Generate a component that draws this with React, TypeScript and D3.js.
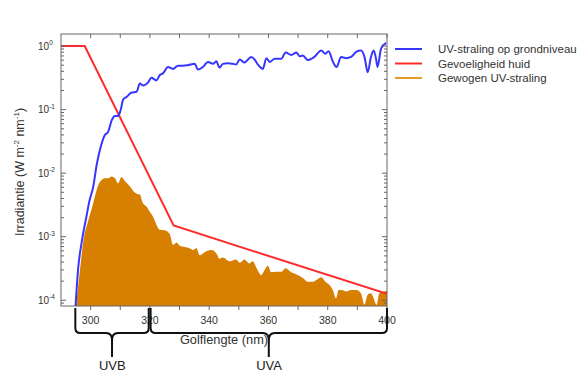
import React from "react";
import * as d3 from "d3";

// Wavelength (nm) and irradiance (W m^-2 nm^-1)
const uvWavelength = [294.9, 295.8, 297.0, 298.6, 299.5, 300.9, 302.0, 303.1, 304.8, 305.9, 307.1, 308.2, 309.3, 310.1, 311.0, 312.1, 313.8, 315.5, 316.6, 317.7, 319.4, 320.5, 322.2, 323.3, 324.4, 326.1, 327.8, 329.5, 331.2, 332.9, 335.1, 336.2, 337.9, 339.6, 341.3, 342.4, 343.5, 344.6, 346.3, 348.0, 349.1, 350.3, 351.9, 354.2, 355.3, 356.4, 358.1, 359.3, 360.4, 362.1, 364.3, 365.8, 367.7, 369.4, 370.5, 371.6, 373.3, 375.5, 377.8, 379.2, 380.3, 381.7, 383.0, 384.5, 386.2, 387.9, 389.6, 391.2, 392.4, 393.5, 394.6, 395.5, 396.3, 396.8, 398.0, 399.7];
const uvIrradiance = [8.0e-5, 3.2e-4, 8.3e-4, 2.1e-3, 3.5e-3, 6.2e-3, 0.0132, 0.0229, 0.0398, 0.0447, 0.0676, 0.0794, 0.0794, 0.0977, 0.145, 0.158, 0.186, 0.191, 0.257, 0.240, 0.269, 0.316, 0.288, 0.347, 0.372, 0.468, 0.437, 0.490, 0.490, 0.501, 0.525, 0.427, 0.468, 0.562, 0.525, 0.575, 0.457, 0.525, 0.537, 0.525, 0.513, 0.617, 0.550, 0.676, 0.617, 0.513, 0.437, 0.646, 0.562, 0.631, 0.631, 0.794, 0.724, 0.794, 0.692, 0.708, 0.603, 0.676, 0.851, 0.759, 0.832, 0.575, 0.468, 0.676, 0.646, 0.676, 0.813, 0.851, 0.676, 0.389, 0.676, 0.851, 0.631, 0.468, 0.912, 1.12];

const skinWavelength = [290, 298, 328, 400];
const skinSensitivity = [1, 1, 0.0015, 0.000126];

const weightedWavelength = [294.9, 296.4, 297.5, 299.2, 300.9, 302.0, 302.6, 303.7, 304.8, 305.9, 307.1, 308.2, 309.3, 310.4, 311.5, 313.2, 314.6, 315.7, 316.6, 317.5, 318.9, 320.0, 321.1, 322.2, 323.3, 325.0, 326.7, 327.8, 329.0, 330.1, 331.8, 333.4, 334.5, 335.7, 336.8, 339.0, 340.7, 342.4, 343.5, 344.6, 346.9, 349.1, 350.3, 351.9, 353.6, 354.7, 356.0, 357.6, 358.7, 359.8, 360.9, 362.6, 364.3, 365.8, 367.7, 369.9, 371.6, 373.3, 375.0, 376.3, 377.8, 379.2, 380.6, 381.7, 382.8, 383.7, 384.8, 386.2, 387.9, 389.6, 391.2, 392.4, 393.5, 394.6, 395.5, 396.5, 397.4, 399.1, 400.0];
const weightedIrradiance = [7.1e-5, 3.0e-4, 8.3e-4, 1.8e-3, 3.4e-3, 5.4e-3, 6.5e-3, 7.8e-3, 8.3e-3, 8.3e-3, 8.9e-3, 8.3e-3, 6.9e-3, 8.7e-3, 7.6e-3, 6.2e-3, 5.1e-3, 4.7e-3, 4.6e-3, 3.5e-3, 2.95e-3, 2.45e-3, 2.04e-3, 1.55e-3, 1.29e-3, 1.26e-3, 1.10e-3, 7.4e-4, 8.1e-4, 7.2e-4, 6.9e-4, 6.6e-4, 6.2e-4, 6.6e-4, 5.1e-4, 5.9e-4, 6.2e-4, 5.5e-4, 4.5e-4, 4.7e-4, 4.1e-4, 4.4e-4, 3.9e-4, 4.4e-4, 3.8e-4, 4.1e-4, 3.2e-4, 2.5e-4, 3.0e-4, 3.5e-4, 2.75e-4, 2.8e-4, 2.8e-4, 3.2e-4, 2.75e-4, 2.5e-4, 2.24e-4, 1.95e-4, 1.95e-4, 2.1e-4, 2.3e-4, 1.95e-4, 1.74e-4, 1.45e-4, 1.07e-4, 1.45e-4, 1.45e-4, 1.38e-4, 1.45e-4, 1.45e-4, 1.29e-4, 8.5e-5, 1.23e-4, 1.29e-4, 1.07e-4, 8.5e-5, 1.29e-4, 1.38e-4, 1.41e-4];

const xTickLabels = [300, 320, 340, 360, 380, 400];
const xTicksAll = [300, 310, 320, 330, 340, 350, 360, 370, 380, 390, 400];
const yDecades = [0, -1, -2, -3, -4];

const legendLabels = ["UV-straling op grondniveau", "Gevoeligheid huid", "Gewogen UV-straling"];
const legendColors = ["#3636ff", "#ff2b2b", "#e39a2e"];

const bands = [
  { label: "UVB", from: 295, to: 319.6 },
  { label: "UVA", from: 320.4, to: 400 },
];

const FONT = "'Liberation Sans', Arial, Helvetica, sans-serif";

export default function App() {
  const left = 61, right = 387, top = 34, bottom = 306;
  const x = d3.scaleLinear().domain([290, 400]).range([left, right]);
  const y = d3.scaleLog().domain([Math.pow(10, -4.09), Math.pow(10, 0.19)]).range([bottom, top]);

  const blue = uvWavelength.map((w, i) => [w, uvIrradiance[i]] as [number, number]);
  const red = skinWavelength.map((w, i) => [w, skinSensitivity[i]] as [number, number]);
  const orange = weightedWavelength.map((w, i) => [w, weightedIrradiance[i]] as [number, number]);

  const line = d3.line<[number, number]>().x(d => x(d[0])).y(d => y(d[1]));
  const smooth = d3.line<[number, number]>().x(d => x(d[0])).y(d => y(d[1])).curve(d3.curveMonotoneX);
  const area = d3.area<[number, number]>().x(d => x(d[0])).y0(bottom + 2).y1(d => y(d[1])).curve(d3.curveMonotoneX);

  const minor: number[] = [];
  for (let e = -5; e <= 0; e++) for (let m = 2; m <= 9; m++) {
    const v = m * Math.pow(10, e);
    const py = y(v);
    if (py > top && py < bottom) minor.push(py);
  }

  const axisColor = "#666";
  const braceY = 333, tipY = 357, topY = 308;
  const brace = (x0: number, x1: number) => {
    const xc = (x0 + x1) / 2;
    return `M${x0},${topY} L${x0},${braceY - 5} Q${x0},${braceY} ${x0 + 5},${braceY} L${xc - 6},${braceY} Q${xc},${braceY} ${xc},${braceY + 7} L${xc},${tipY} M${xc},${braceY + 7} Q${xc},${braceY} ${xc + 6},${braceY} L${x1 - 5},${braceY} Q${x1},${braceY} ${x1},${braceY - 5} L${x1},${topY}`;
  };

  return (
    <svg width={582} height={389} style={{ position: "absolute", left: 0, top: 0, background: "#fff" }} fontFamily={FONT}>
      <defs>
        <clipPath id="plotclip">
          <rect x={left} y={top} width={right - left} height={bottom - top} />
        </clipPath>
      </defs>
      <g clipPath="url(#plotclip)">
        <path d={area(orange) || ""} fill="#d77f00" />
        <path d={line(red) || ""} fill="none" stroke="#ff2b2b" strokeWidth={2} />
        <path d={smooth(blue) || ""} fill="none" stroke="#3636ff" strokeWidth={2} strokeLinejoin="round" />
      </g>
      {/* frame */}
      <rect x={left} y={top} width={right - left} height={bottom - top} fill="none" stroke={axisColor} strokeWidth={1} />
      {/* x ticks */}
      {xTicksAll.map(t => (
        <g key={"xt" + t}>
          <line x1={x(t)} x2={x(t)} y1={top} y2={top + 4} stroke={axisColor} />
          <line x1={x(t)} x2={x(t)} y1={bottom} y2={bottom + 4} stroke={axisColor} />
        </g>
      ))}
      {xTickLabels.map(t => (
        <text key={"xl" + t} x={x(t)} y={324} fontSize={10.5} fill="#333" textAnchor="middle">{t}</text>
      ))}
      {/* y ticks */}
      {yDecades.map(e => {
        const py = y(Math.pow(10, e));
        return (
          <g key={"yd" + e}>
            <line x1={left} x2={left + 5} y1={py} y2={py} stroke={axisColor} />
            <line x1={right - 5} x2={right} y1={py} y2={py} stroke={axisColor} />
            <text x={38} y={py + 3.5} fontSize={10} fill="#333">
              10<tspan fontSize={6.5} dy={-4.5}>{e === 0 ? "0" : "-" + Math.abs(e)}</tspan>
            </text>
          </g>
        );
      })}
      {minor.map((py, i) => (
        <g key={"ym" + i}>
          <line x1={left} x2={left + 3} y1={py} y2={py} stroke={axisColor} />
          <line x1={right - 3} x2={right} y1={py} y2={py} stroke={axisColor} />
        </g>
      ))}
      {/* axis titles */}
      <text x={224} y={344} fontSize={12.8} fill="#333" textAnchor="middle">Golflengte (nm)</text>
      <text transform="translate(24,172) rotate(-90)" fontSize={12.5} fill="#333" textAnchor="middle">
        Irradiantie (W m<tspan fontSize={8} dy={-5}>-2</tspan><tspan dy={5}> nm</tspan><tspan fontSize={8} dy={-5}>-1</tspan><tspan dy={5}>)</tspan>
      </text>
      {/* legend */}
      {legendLabels.map((lab, i) => (
        <g key={"lg" + i}>
          <line x1={395} x2={422} y1={49 + i * 14.5} y2={49 + i * 14.5} stroke={legendColors[i]} strokeWidth={2} />
          <text x={438} y={53 + i * 14.5} fontSize={11.5} fill="#333">{lab}</text>
        </g>
      ))}
      {/* braces */}
      {bands.map(b => (
        <g key={b.label}>
          <path d={brace(x(b.from) - 0.5, x(b.to))} fill="none" stroke="#111" strokeWidth={2} />
          <text x={(x(b.from) + x(b.to)) / 2} y={370} fontSize={13} fill="#222" textAnchor="middle">{b.label}</text>
        </g>
      ))}
    </svg>
  );
}
